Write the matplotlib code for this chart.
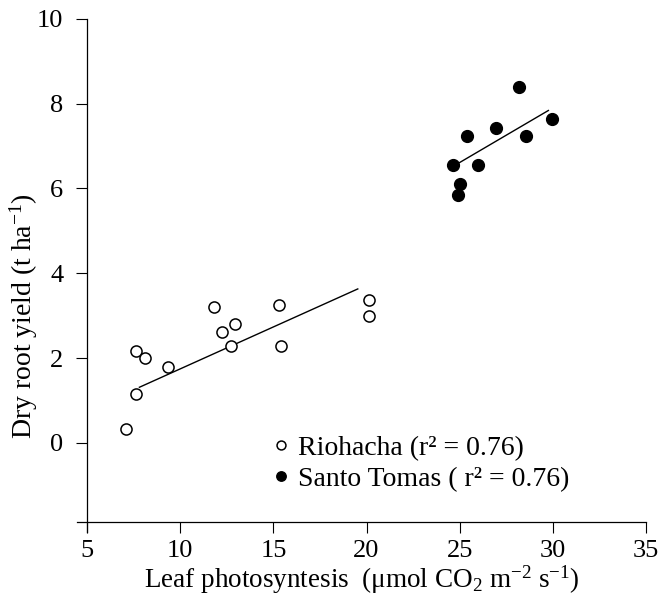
import numpy as np
import matplotlib
matplotlib.use('Agg')
import matplotlib.pyplot as plt

plt.rcParams['font.family'] = ['Liberation Serif', 'DejaVu Serif']
plt.rcParams['mathtext.fontset'] = 'custom'
plt.rcParams['mathtext.rm'] = 'Liberation Serif'
plt.rcParams['mathtext.it'] = 'Liberation Serif:italic'

# Riohacha (open circles)
rio_x = [11.80, 15.31, 12.94, 12.26, 12.71, 15.41, 7.63, 8.13, 9.35, 7.65, 7.11, 20.12, 20.12]
rio_y = [3.20, 3.26, 2.80, 2.61, 2.29, 2.29, 2.17, 2.00, 1.78, 1.14, 0.33, 3.36, 3.00]
rio_fit_x = [7.81, 19.53]
rio_fit_y = [1.31, 3.63]

# Santo Tomas (filled circles)
st_x = [28.17, 29.96, 25.38, 26.94, 28.55, 24.65, 26.00, 24.99, 24.91]
st_y = [8.40, 7.64, 7.24, 7.42, 7.24, 6.55, 6.55, 6.11, 5.84]
st_fit_x = [24.99, 29.76]
st_fit_y = [6.61, 7.84]

x_ticks = [5, 10, 15, 20, 25, 30, 35]
y_ticks = [0, 2, 4, 6, 8, 10]

fig = plt.figure(figsize=(6.66, 5.95), dpi=100)
ax = fig.add_axes([0.1153, 0.1062, 0.8547, 0.862])

ax.plot(rio_fit_x, rio_fit_y, color='black', lw=1.0, zorder=2)
ax.plot(st_fit_x, st_fit_y, color='black', lw=1.0, zorder=2)
ax.plot(rio_x, rio_y, 'o', ms=8, mfc='white', mec='black', mew=1.1, ls='none',
        label='Riohacha (r² = 0.76)', zorder=3)
ax.plot(st_x, st_y, 'o', ms=8.5, mfc='black', mec='black', mew=1.0, ls='none',
        label='Santo Tomas ( r² = 0.76)', zorder=3)

ax.set_xlim(4.45, 35)
ax.set_ylim(-2.1, 10)
ax.spines['top'].set_visible(False)
ax.spines['right'].set_visible(False)
ax.spines['bottom'].set_position(('data', -1.87))
ax.spines['left'].set_position(('data', 5))
for s in ('bottom', 'left'):
    ax.spines[s].set_linewidth(0.9)
ax.set_xticks(x_ticks)
ax.set_yticks(y_ticks)
ax.tick_params(direction='out', length=8, width=0.8, labelsize=19)
ax.tick_params(axis='y', pad=9)
ax.tick_params(axis='x', pad=5)

ax.set_xlabel('Leaf photosyntesis  (μmol CO$_2$ m$^{-2}$ s$^{-1}$)', fontsize=19.5, labelpad=1)
ax.set_ylabel('Dry root yield (t ha$^{-1}$)', fontsize=20)
ax.yaxis.set_label_coords(-0.064, 0.42)

leg = ax.legend(loc='upper left', bbox_to_anchor=(0.31, 0.215), frameon=False,
                fontsize=20, handletextpad=0.1, borderpad=0, labelspacing=0.2,
                handlelength=1.0, markerscale=0.8)

fig.savefig('out.png', dpi=100)
